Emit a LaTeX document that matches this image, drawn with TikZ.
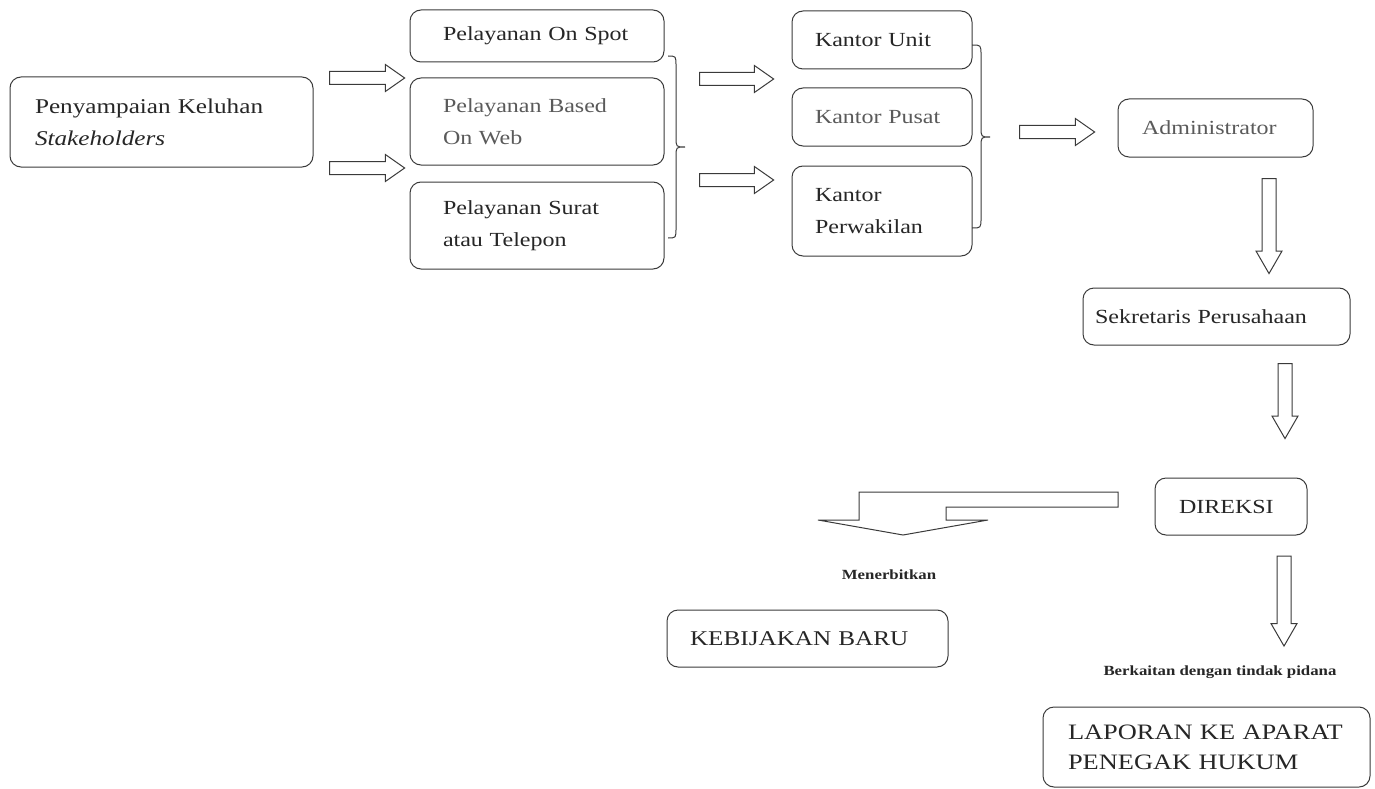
\documentclass[tikz,border=0pt]{standalone}
\usepackage{fontspec}
\setmainfont{Liberation Serif}[FakeStretch=1.2]
\usetikzlibrary{shapes.arrows}
\definecolor{ln}{HTML}{3A3A3A}
\definecolor{tx}{HTML}{262626}
\definecolor{lt}{HTML}{5A5A5A}
\begin{document}
\begin{tikzpicture}[x=1pt,y=-1pt,
  box/.style={draw=ln, line width=1pt, rounded corners=11pt, align=left, text=tx,
    font=\fontsize{20}{32}\selectfont, inner ysep=0pt},
  barrow/.style={single arrow, draw=ln, line width=1pt, inner xsep=0pt, inner ysep=6pt,
    single arrow head extend=7pt, single arrow head indent=0pt, single arrow tip angle=70},
  darrow/.style={single arrow, draw=ln, line width=1pt, inner xsep=6.5pt, inner ysep=0pt,
    single arrow head extend=6pt, single arrow head indent=0pt,
    single arrow tip angle=60, shape border rotate=270},
  lbl/.style={font=\fontsize{14}{16}\selectfont\bfseries, text=tx, inner sep=0pt},
  brace/.style={draw=ln, line width=1pt}]
\useasboundingbox (0,0) rectangle (1375,789);

% boxes
\node[box, minimum width=303pt, minimum height=90pt, text width=253pt, inner xsep=25pt, font=\fontsize{21}{32}\selectfont] (stk) at (161.5,122) {Penyampaian Keluhan\\\textit{Stakeholders}};
\node[box, minimum width=254pt, minimum height=52pt, text width=188pt, inner xsep=33pt] (spot) at (537,36) {Pelayanan On Spot};
\node[box, minimum width=254pt, minimum height=87pt, text width=188pt, inner xsep=33pt, text=lt] (web) at (537,121.5) {Pelayanan Based\\On Web};
\node[box, minimum width=254pt, minimum height=87pt, text width=188pt, inner xsep=33pt] (surat) at (537,225.5) {Pelayanan Surat\\atau Telepon};

\node[box, minimum width=180pt, minimum height=58pt, text width=134pt, inner xsep=23pt] (unit) at (882,40) {Kantor Unit};
\node[box, minimum width=180pt, minimum height=58pt, text width=134pt, inner xsep=23pt, text=lt] (pusat) at (882,117) {Kantor Pusat};
\node[box, minimum width=180pt, minimum height=90pt, text width=134pt, inner xsep=23pt] (perw) at (882,211) {Kantor\\Perwakilan};

\node[box, minimum width=195pt, minimum height=58pt, text width=147pt, inner xsep=24pt, text=lt] (admin) at (1215.5,128) {Administrator};
\node[box, minimum width=267pt, minimum height=57pt, text width=243pt, inner xsep=12pt] (sekr) at (1216.5,316.5) {Sekretaris Perusahaan};
\node[box, minimum width=152pt, minimum height=57pt, text width=104pt, inner xsep=24pt] (dir) at (1231,506.5) {DIREKSI};
\node[box, minimum width=281pt, minimum height=57pt, text width=235pt, inner xsep=23pt, font=\fontsize{21}{32}\selectfont] (keb) at (807.5,638.5) {KEBIJAKAN BARU};
\node[box, minimum width=327pt, minimum height=80pt, text width=277pt, inner xsep=25pt, font=\fontsize{22}{30}\selectfont] (lap) at (1206.5,747) {LAPORAN KE APARAT\\PENEGAK HUKUM};

% labels
\node[lbl] (men) at (889,575) {Menerbitkan};
\node[lbl] (berk) at (1220,672) {Berkaitan dengan tindak pidana};

% block arrows
\node[barrow, minimum height=75pt] (a1) at (362.5,78) {};
\node[barrow, minimum height=75pt] (a2) at (362.5,168) {};
\node[barrow, minimum height=74pt] (a3) at (732,79) {};
\node[barrow, minimum height=74pt] (a4) at (732,180) {};
\node[barrow, minimum height=75pt] (a5) at (1052.5,132) {};
\node[darrow, minimum height=95pt] (d1) at (1269,220) {};
\node[darrow, minimum height=75pt] (d2) at (1285,395) {};
\node[darrow, minimum height=90pt] (d3) at (1284,595) {};

% bent arrow from DIREKSI
\draw[draw=ln, line width=1pt] (1118,492) -- (859,492) -- (859,520) -- (818,520) -- (903,535)
  -- (988,520) -- (946,520) -- (946,507) -- (1118,507) -- cycle;

% braces
\draw[brace] (668,56) .. controls (676,56) .. (676,66) -- (676,137)
  .. controls (676,147) .. (685,147) .. controls (676,147) .. (676,157)
  -- (676,228) .. controls (676,238) .. (668,238);
\draw[brace] (972,45) .. controls (981,45) .. (981,55) -- (981,127)
  .. controls (981,137) .. (990,137) .. controls (981,137) .. (981,147)
  -- (981,218) .. controls (981,228) .. (972,228);
\end{tikzpicture}
\end{document}
